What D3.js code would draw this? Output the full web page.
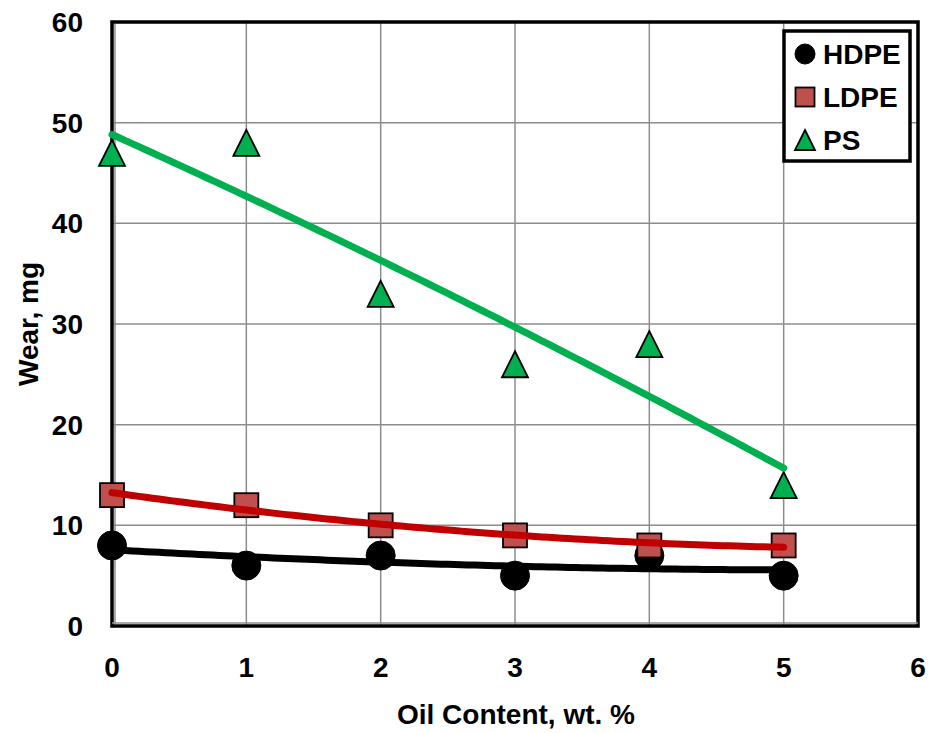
<!DOCTYPE html>
<html><head><meta charset="utf-8">
<script src="https://cdn.jsdelivr.net/npm/d3@7"></script>
<style>body{margin:0;background:#fff}svg{display:block}text{font-family:"Liberation Sans",Arial,sans-serif;font-weight:bold;fill:#000}</style>
</head><body><svg id="c" width="933" height="733"></svg>
<script>
const oilContent = [0, 1, 2, 3, 4, 5];
const hdpe = [8, 6, 7, 5, 7, 5];
const ldpe = [13, 12, 10, 9, 8, 8];
const ps = [47, 48, 33, 26, 28, 14];
const xTicks = [0, 1, 2, 3, 4, 5, 6];
const yTicks = [0, 10, 20, 30, 40, 50, 60];

const svg = d3.select("#c");
const L = 112, R = 918, T = 22, B = 626;
const x = d3.scaleLinear().domain([0, 6]).range([L, R]);
const y = d3.scaleLinear().domain([0, 60]).range([B, T]);

// gridlines
svg.append("g").selectAll("line").data(xTicks).join("line")
  .attr("x1", d => x(d)).attr("x2", d => x(d)).attr("y1", T).attr("y2", B)
  .attr("stroke", "#8c8c8c").attr("stroke-width", 1.5);
svg.append("g").selectAll("line").data(yTicks).join("line")
  .attr("x1", L).attr("x2", R).attr("y1", d => y(d)).attr("y2", d => y(d))
  .attr("stroke", "#8c8c8c").attr("stroke-width", 1.5);
// frame
svg.append("rect").attr("x", L).attr("y", T).attr("width", R - L).attr("height", B - T)
  .attr("fill", "none").attr("stroke", "#000").attr("stroke-width", 3.5);
svg.append("line").attr("x1", L + 3).attr("x2", L + 3).attr("y1", T + 2).attr("y2", B - 2).attr("stroke", "#8c8c8c").attr("stroke-width", 1.5);
svg.append("line").attr("x1", L).attr("x2", R).attr("y1", B - 3).attr("y2", B - 3).attr("stroke", "#8c8c8c").attr("stroke-width", 1.5);

// axes labels
svg.append("g").selectAll("text").data(yTicks).join("text")
  .attr("x", 83).attr("y", d => y(d) + 10).attr("text-anchor", "end")
  .attr("font-size", 28).text(d => d);
svg.append("g").selectAll("text").data(xTicks).join("text")
  .attr("x", d => x(d)).attr("y", 677).attr("text-anchor", "middle")
  .attr("font-size", 28).text(d => d);
svg.append("text").attr("x", 516).attr("y", 724).attr("text-anchor", "middle")
  .attr("font-size", 28).text("Oil Content, wt. %");
svg.append("text").attr("transform", "translate(38,324) rotate(-90)").attr("text-anchor", "middle")
  .attr("font-size", 28).text("Wear, mg");

// quadratic least-squares trendline
function quadFit(xs, ys) {
  let n = xs.length, s = [0,0,0,0,0], t = [0,0,0];
  for (let i = 0; i < n; i++) {
    const xi = xs[i], yi = ys[i];
    for (let k = 0; k < 5; k++) s[k] += Math.pow(xi, k);
    for (let k = 0; k < 3; k++) t[k] += yi * Math.pow(xi, k);
  }
  const M = [[s[0], s[1], s[2], t[0]], [s[1], s[2], s[3], t[1]], [s[2], s[3], s[4], t[2]]];
  for (let i = 0; i < 3; i++) {
    for (let j = i + 1; j < 3; j++) {
      const f = M[j][i] / M[i][i];
      for (let k = i; k < 4; k++) M[j][k] -= f * M[i][k];
    }
  }
  const c = [0,0,0];
  for (let i = 2; i >= 0; i--) {
    let v = M[i][3];
    for (let k = i + 1; k < 3; k++) v -= M[i][k] * c[k];
    c[i] = v / M[i][i];
  }
  return xv => c[0] + c[1] * xv + c[2] * xv * xv;
}
const series = [
  {name: "HDPE", vals: hdpe, line: "#000000", fill: "#000000", shape: "circle"},
  {name: "LDPE", vals: ldpe, line: "#C00000", fill: "#C0504D", shape: "square"},
  {name: "PS", vals: ps, line: "#00B050", fill: "#00B050", shape: "triangle"}
];
const lineGen = d3.line().x(d => x(d[0])).y(d => y(d[1]));
function drawMarker(g, shape, fill, size) {
  if (shape === "circle") {
    g.append("circle").attr("r", size / 2).attr("fill", fill).attr("stroke", "#000").attr("stroke-width", 1);
  } else if (shape === "square") {
    g.append("rect").attr("x", -size / 2).attr("y", -size / 2).attr("width", size).attr("height", size)
      .attr("fill", fill).attr("stroke", "#000").attr("stroke-width", 1.8);
  } else {
    const h = size;
    g.append("path").attr("d", `M0,${-h/2} L${size/2},${h/2} L${-size/2},${h/2} Z`)
      .attr("fill", fill).attr("stroke", "#000").attr("stroke-width", 1.8).attr("stroke-linejoin", "miter");
  }
}
// markers first, then trendlines on top
series.forEach(s => {
  s.vals.forEach((v, i) => {
    const g = svg.append("g").attr("transform", `translate(${x(oilContent[i])},${y(v)})`);
    drawMarker(g, s.shape, s.fill, s.shape === "circle" ? 29 : (s.shape === "square" ? 24 : 26));
  });
});
series.forEach(s => {
  const f = quadFit(oilContent, s.vals);
  const pts = d3.range(0, 5.0001, 0.05).map(xv => [xv, f(xv)]);
  svg.append("path").attr("d", lineGen(pts)).attr("fill", "none")
    .attr("stroke", s.line).attr("stroke-width", 7).attr("stroke-linecap", "round");
});

// legend
svg.append("rect").attr("x", 784).attr("y", 31).attr("width", 126).attr("height", 130)
  .attr("fill", "#fff").attr("stroke", "#000").attr("stroke-width", 3.5);
series.forEach((s, i) => {
  const cy = 54 + i * 43;
  const g = svg.append("g").attr("transform", `translate(805,${cy})`);
  drawMarker(g, s.shape, s.fill, s.shape === "circle" ? 20 : (s.shape === "square" ? 19 : 20));
  svg.append("text").attr("x", 823).attr("y", cy + 10).attr("font-size", 28).text(s.name);
});
</script></body></html>
